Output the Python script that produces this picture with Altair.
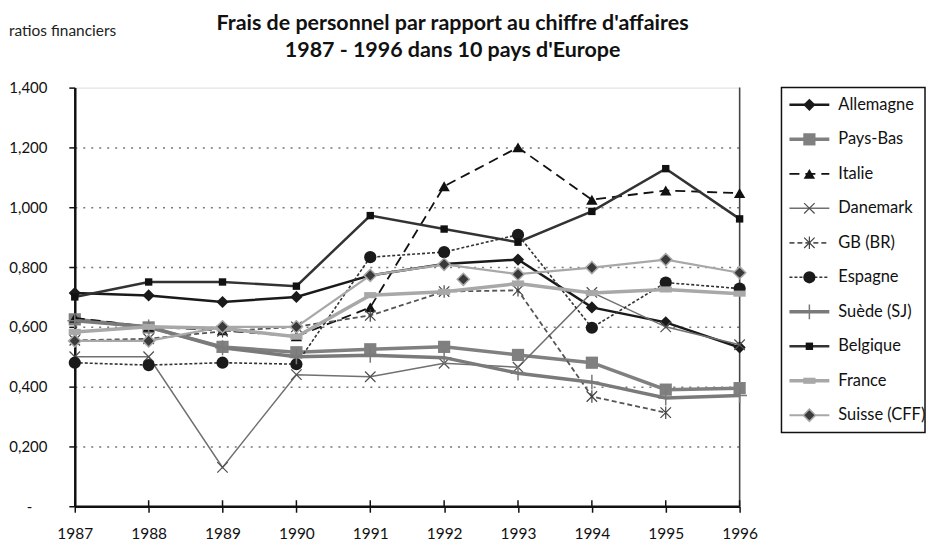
import altair as alt
import pandas as pd

years = [1987, 1988, 1989, 1990, 1991, 1992, 1993, 1994, 1995, 1996]
names = ["Allemagne", "Pays-Bas", "Italie", "Danemark", "GB (BR)", "Espagne",
         "Suède (SJ)", "Belgique", "France", "Suisse (CFF)"]

allemagne = [0.713, 0.705, 0.683, 0.700, 0.772, 0.810, 0.825, 0.665, 0.615, 0.531]
pays_bas = [0.625, 0.598, 0.533, 0.515, 0.525, 0.533, 0.506, 0.480, 0.390, 0.395]
italie = [0.630, 0.600, 0.588, 0.568, 0.665, 1.070, 1.200, 1.025, 1.056, 1.047]
danemark = [0.500, 0.500, 0.130, 0.440, 0.433, 0.478, 0.465, 0.715, 0.600, 0.540]
gb = [0.555, 0.560, 0.585, 0.600, 0.638, 0.718, 0.722, 0.367, 0.313, None]
espagne = [0.480, 0.472, 0.480, 0.475, 0.833, 0.850, 0.908, 0.597, 0.748, 0.728]
suede = [0.620, 0.600, 0.530, 0.500, 0.505, 0.497, 0.445, 0.415, 0.362, 0.370]
belgique = [0.700, 0.750, 0.750, 0.736, 0.972, 0.927, 0.883, 0.986, 1.129, 0.961]
france = [0.583, 0.600, 0.595, 0.567, 0.706, 0.717, 0.745, 0.713, 0.725, 0.711]
suisse = [0.553, 0.553, 0.600, 0.600, 0.772, 0.809, 0.776, 0.798, 0.825, 0.781]

# stray Suisse marker visible between 1992 and 1993
stray_x = [1992.26]
stray_y = [0.759]

series_values = [allemagne, pays_bas, italie, danemark, gb, espagne, suede,
                 belgique, france, suisse]

y_ticks = [0, 0.2, 0.4, 0.6, 0.8, 1.0, 1.2, 1.4]

title_lines = ["Frais de personnel par rapport au chiffre d'affaires",
               "1987 - 1996 dans 10 pays d'Europe"]
corner_text = ["ratios financiers"]

X_PATH = "M-1,-1L1,1M-1,1L1,-1"
AST_PATH = "M-1,-1L1,1M-1,1L1,-1M0,-1.2L0,1.2"
PLUS_PATH = "M0,-1L0,1M-1,0L1,0"
FLAT_RECT = "M-1,-0.5L1,-0.5L1,0.5L-1,0.5Z"

styles = {
    "Allemagne": dict(line=dict(color="#1a1a1a", strokeWidth=2.5),
                      pt=dict(shape="diamond", filled=True, color="#1a1a1a", size=150)),
    "Pays-Bas": dict(line=dict(color="#808080", strokeWidth=3.5),
                     pt=dict(shape="square", filled=True, color="#808080", size=150)),
    "Italie": dict(line=dict(color="#111111", strokeWidth=1.8, strokeDash=[10, 6]),
                   pt=dict(shape="triangle-up", filled=True, color="#111111", size=130)),
    "Danemark": dict(line=dict(color="#707070", strokeWidth=1.5),
                     pt=dict(shape=X_PATH, filled=False, color="#505050", size=110, strokeWidth=1.2)),
    "GB (BR)": dict(line=dict(color="#555555", strokeWidth=1.8, strokeDash=[5, 3]),
                    pt=dict(shape=AST_PATH, filled=False, color="#444444", size=110, strokeWidth=1.2)),
    "Espagne": dict(line=dict(color="#333333", strokeWidth=1.6, strokeDash=[3, 2]),
                    pt=dict(shape="circle", filled=True, color="#1a1a1a", size=150)),
    "Suède (SJ)": dict(line=dict(color="#7a7a7a", strokeWidth=3.5),
                       pt=dict(shape=PLUS_PATH, filled=False, color="#7a7a7a", size=220, strokeWidth=1.5)),
    "Belgique": dict(line=dict(color="#333333", strokeWidth=2.5),
                     pt=dict(shape="square", filled=True, color="#111111", size=55)),
    "France": dict(line=dict(color="#a8a8a8", strokeWidth=3.5),
                   pt=dict(shape=FLAT_RECT, filled=True, color="#a8a8a8", size=150)),
    "Suisse (CFF)": dict(line=dict(color="#a8a8a8", strokeWidth=2.2),
                         pt=dict(shape="diamond", filled=True, fill="#3a3a3a", stroke="#a8a8a8",
                                 strokeWidth=1.5, size=150)),
}

rows = []
for n, vals in zip(names, series_values):
    for yr, v in zip(years, vals):
        if v is not None:
            rows.append({"series": n, "year": yr, "value": v})
df = pd.DataFrame(rows)

FONT = "Lato"

X = alt.X("year:Q", scale=alt.Scale(domain=[1987, 1996], nice=False, zero=False),
          axis=alt.Axis(values=years, format="d", title=None, grid=False,
                        labelFontSize=15.5, labelFont=FONT, labelColor="#111",
                        labelPadding=14, tickSize=6, tickColor="#111", tickWidth=1.5,
                        domainColor="#111", domainWidth=2.5, labelFlush=False))
Y = alt.Y("value:Q", scale=alt.Scale(domain=[0, 1.4], nice=False, zero=True),
          axis=alt.Axis(values=y_ticks, title=None,
                        labelExpr="datum.value == 0 ? '-' : replace(format(datum.value, '.3f'), '.', ',')",
                        labelFontSize=15, labelFont=FONT, labelColor="#111",
                        labelPadding={"condition": {"test": "datum.value == 0", "value": 37},
                                      "value": 22},
                        tickSize=6, tickColor="#111", tickWidth=1.5,
                        domainColor="#111", domainWidth=2.5,
                        grid=True, gridDash=[2, 6], gridColor="#777", gridWidth=1.5,
                        gridOpacity={"condition": {"test": "datum.value > 1.39 || datum.value == 0",
                                                   "value": 0}, "value": 1}))

layers = []
right_rule = alt.Chart(pd.DataFrame({"year": [1996]})).mark_rule(
    color="#444", strokeWidth=1.5).encode(x=X)
layers.append(right_rule)

# inner half of the x-axis ticks (Excel style crossing ticks)
inner_ticks = alt.Chart(pd.DataFrame({"year": years})).mark_rule(
    color="#111", strokeWidth=1.5).encode(x=X, y=alt.value(414), y2=alt.value(420))
layers.append(inner_ticks)

for n in names:
    st = styles[n]
    base = alt.Chart(df).transform_filter(alt.datum.series == n)
    layers.append(base.mark_line(**st["line"]).encode(x=X, y=Y))
    layers.append(base.mark_point(opacity=1, **st["pt"]).encode(x=X, y=Y))

stray = alt.Chart(pd.DataFrame({"year": stray_x, "value": stray_y})).mark_point(
    opacity=1, **styles["Suisse (CFF)"]["pt"]).encode(x=X, y=Y)
layers.append(stray)

corner = alt.Chart(pd.DataFrame({"t": corner_text})).mark_text(
    align="left", baseline="middle", fontSize=15.5, font=FONT, color="#222").encode(
    x=alt.value(-66), y=alt.value(-57), text="t:N")
layers.append(corner)

t1 = alt.Chart(pd.DataFrame({"t": [title_lines[0]]})).mark_text(
    align="center", baseline="middle", fontSize=21.5, font=FONT, fontWeight="bold",
    color="#111").encode(x=alt.value(379), y=alt.value(-64), text="t:N")
t2 = alt.Chart(pd.DataFrame({"t": [title_lines[1]]})).mark_text(
    align="center", baseline="middle", fontSize=21.5, font=FONT, fontWeight="bold",
    color="#111").encode(x=alt.value(379), y=alt.value(-37), text="t:N")
layers += [t1, t2]

main = alt.layer(*layers).properties(width=667, height=420)

# legend panel
LY = alt.Y("name:N", sort=names, axis=None,
           scale=alt.Scale(type="point", domain=names, padding=0.5))
leg_layers = []
for n in names:
    st = styles[n]
    d = alt.Chart(pd.DataFrame({"name": [n]}))
    leg_layers.append(d.mark_rule(**st["line"]).encode(
        x=alt.value(8), x2=alt.value(48), y=LY))
    leg_layers.append(d.mark_point(opacity=1, **st["pt"]).encode(x=alt.value(28), y=LY))
leg_layers.append(alt.Chart(pd.DataFrame({"name": names})).mark_text(
    align="left", baseline="middle", fontSize=16.5, font=FONT, color="#111").encode(
    x=alt.value(57), y=LY, text="name:N"))
legend = alt.layer(*leg_layers).properties(
    width=144, height=346,
    view=alt.ViewBackground(stroke="#111", strokeWidth=1.5))

chart = alt.hconcat(main, legend, spacing=42, bounds="flush").properties(
    padding={"left": 0, "top": 3, "right": 0, "bottom": 0}
).configure_view(stroke=None).configure(background="white")

chart.save("out.html", embed_options={"renderer": "svg", "actions": False})
